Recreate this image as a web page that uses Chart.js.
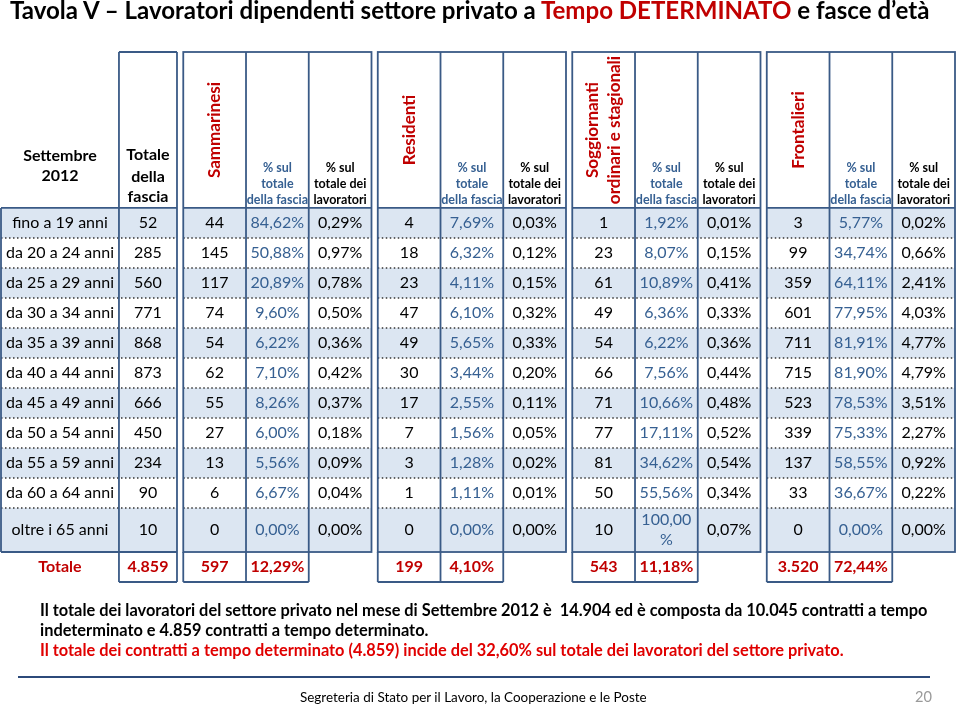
<!DOCTYPE html>
<html>
<head>
<meta charset="utf-8">
<script src="https://cdn.jsdelivr.net/npm/chart.js@4.4.0/dist/chart.umd.min.js"></script>
<style>
  body { margin: 0; background: #fff; font-family: Lato, "Open Sans", sans-serif; }
  #wrap { position: relative; width: 960px; height: 707px; overflow: hidden; }
  #tavola { position: absolute; left: 0; top: 0; }
  .t { position: absolute; white-space: nowrap; line-height: 1; }
  .b { font-weight: bold; }
  #rule { position: absolute; left: 18px; top: 676px; width: 912px; height: 2px; background: #2c4a7a; }
</style>
</head>
<body>
<div id="wrap">
  <canvas id="tavola" width="960" height="707"></canvas>
  <div id="title" class="t b" style="font-size:21px">Tavola V – Lavoratori dipendenti settore privato a <span style="color:#c00000">Tempo DETERMINATO</span> e fasce d’età</div>
  <div id="n1" class="t b" style="font-size:15px">Il totale dei lavoratori del settore privato nel mese di Settembre 2012 è &nbsp;14.904 ed è composta da 10.045 contratti a tempo</div>
  <div id="n2" class="t b" style="font-size:15px">indeterminato e 4.859 contratti a tempo determinato.</div>
  <div id="n3" class="t b" style="font-size:15px;color:#e00000">Il totale dei contratti a tempo determinato (4.859) incide del 32,60% sul totale dei lavoratori del settore privato.</div>
  <div id="rule"></div>
  <div id="foot" class="t" style="font-size:13.5px">Segreteria di Stato per il Lavoro, la Cooperazione e le Poste</div>
  <div id="page" class="t" style="font-size:15px;color:#9a9a9a">20</div>
</div>
<script>
// fasce d'età (righe)
const fasce = ['fino a 19 anni', 'da 20 a 24 anni', 'da 25 a 29 anni', 'da 30 a 34 anni', 'da 35 a 39 anni',
  'da 40 a 44 anni', 'da 45 a 49 anni', 'da 50 a 54 anni', 'da 55 a 59 anni', 'da 60 a 64 anni', 'oltre i 65 anni'];
const totaleFascia = [52, 285, 560, 771, 868, 873, 666, 450, 234, 90, 10];

const sammarinesi = [44, 145, 117, 74, 54, 62, 55, 27, 13, 6, 0];
const sammPctFascia = [84.62, 50.88, 20.89, 9.60, 6.22, 7.10, 8.26, 6.00, 5.56, 6.67, 0.00];
const sammPctLav = [0.29, 0.97, 0.78, 0.50, 0.36, 0.42, 0.37, 0.18, 0.09, 0.04, 0.00];

const residenti = [4, 18, 23, 47, 49, 30, 17, 7, 3, 1, 0];
const resPctFascia = [7.69, 6.32, 4.11, 6.10, 5.65, 3.44, 2.55, 1.56, 1.28, 1.11, 0.00];
const resPctLav = [0.03, 0.12, 0.15, 0.32, 0.33, 0.20, 0.11, 0.05, 0.02, 0.01, 0.00];

const soggiornanti = [1, 23, 61, 49, 54, 66, 71, 77, 81, 50, 10];
const sogPctFascia = [1.92, 8.07, 10.89, 6.36, 6.22, 7.56, 10.66, 17.11, 34.62, 55.56, 100.00];
const sogPctLav = [0.01, 0.15, 0.41, 0.33, 0.36, 0.44, 0.48, 0.52, 0.54, 0.34, 0.07];

const frontalieri = [3, 99, 359, 601, 711, 715, 523, 339, 137, 33, 0];
const froPctFascia = [5.77, 34.74, 64.11, 77.95, 81.91, 81.90, 78.53, 75.33, 58.55, 36.67, 0.00];
const froPctLav = [0.02, 0.66, 2.41, 4.03, 4.77, 4.79, 3.51, 2.27, 0.92, 0.22, 0.00];

// riga "Totale"
const totaleGenerale = 4859;
const totaliGruppi = [597, 199, 543, 3520];
const totaliPct = [12.29, 4.10, 11.18, 72.44];

const gruppi = [
  { nome: ['Sammarinesi'], n: sammarinesi, pf: sammPctFascia, pl: sammPctLav },
  { nome: ['Residenti'], n: residenti, pf: resPctFascia, pl: resPctLav },
  { nome: ['Soggiornanti', 'ordinari e stagionali'], n: soggiornanti, pf: sogPctFascia, pl: sogPctLav },
  { nome: ['Frontalieri'], n: frontalieri, pf: froPctFascia, pl: froPctLav }
];

// layout in scale units (1 x unit = one data column, 1 y unit = one row)
const LABEL_W = 1.88, TOT_W = 0.925, GAP = 0.1, HEAD_H = 5.2;
const rowH = [1, 1, 1, 1, 1, 1, 1, 1, 1, 1, 1.47];
const rowTop = [];
rowH.reduce((acc, h, i) => { rowTop[i] = acc; return acc + h; }, HEAD_H);
const DATA_END = HEAD_H + rowH.reduce((a, b) => a + b, 0);
const TOT_END = DATA_END + 1;
const groupStart = g => LABEL_W + TOT_W + GAP + g * (3 + GAP);
const X_MAX = groupStart(3) + 3;

const FONT = 'Lato, "Open Sans", sans-serif';
const RED = '#c00000', BLUE = '#366092', BORDER = '#3a5a86', SHADE = '#dce6f2';

const fmtInt = n => String(n).replace(/\B(?=(\d{3})+(?!\d))/g, '.');
const fmtPct = v => v.toFixed(2).replace('.', ',') + '%';

const tablePlugin = {
  id: 'tavola',
  afterDraw(chart) {
    const ctx = chart.ctx, sx = chart.scales.x, sy = chart.scales.y;
    const X = v => sx.getPixelForValue(v), Y = v => sy.getPixelForValue(v);
    const line = (x1, y1, x2, y2) => { ctx.beginPath(); ctx.moveTo(X(x1), Y(y1)); ctx.lineTo(X(x2), Y(y2)); ctx.stroke(); };
    const text = (s, xc, yc, font, color, maxW) => {
      ctx.font = font; ctx.fillStyle = color;
      ctx.textAlign = 'center'; ctx.textBaseline = 'middle';
      if (maxW && ctx.measureText(s).width > maxW && s.endsWith('%')) {
        ctx.fillText(s.slice(0, -1), X(xc), Y(yc) - 10);
        ctx.fillText('%', X(xc), Y(yc) + 10);
      } else {
        ctx.fillText(s, X(xc), Y(yc));
      }
    };
    const regions = [[0, LABEL_W + TOT_W]].concat(gruppi.map((g, i) => [groupStart(i), groupStart(i) + 3]));

    ctx.save();
    // shaded rows
    ctx.fillStyle = SHADE;
    fasce.forEach((f, i) => {
      if (i % 2) return;
      regions.forEach(([a, b]) => {
        ctx.fillRect(X(a), Y(rowTop[i]), X(b) - X(a), Y(rowTop[i] + rowH[i]) - Y(rowTop[i]));
      });
    });

    // dotted separators
    ctx.strokeStyle = '#333';
    ctx.lineWidth = 1.5;
    ctx.setLineDash([1.5, 2.5]);
    for (let i = 1; i < fasce.length; i++) {
      regions.forEach(([a, b]) => line(a, rowTop[i], b, rowTop[i]));
    }

    // solid borders
    ctx.setLineDash([]);
    ctx.strokeStyle = BORDER;
    ctx.lineWidth = 1.8;
    line(0, HEAD_H, 0, DATA_END);
    line(0, HEAD_H, LABEL_W + TOT_W, HEAD_H);
    line(0, DATA_END, LABEL_W + TOT_W, DATA_END);
    line(LABEL_W, 0, LABEL_W, TOT_END);
    line(LABEL_W + TOT_W, 0, LABEL_W + TOT_W, TOT_END);
    line(LABEL_W, 0, LABEL_W + TOT_W, 0);
    line(LABEL_W, TOT_END, LABEL_W + TOT_W, TOT_END);
    gruppi.forEach((g, i) => {
      const s = groupStart(i);
      ctx.strokeRect(X(s), Y(0), X(s + 3) - X(s), Y(DATA_END) - Y(0));
      line(s + 1, 0, s + 1, DATA_END);
      line(s + 2, 0, s + 2, DATA_END);
      line(s, HEAD_H, s + 3, HEAD_H);
      [0, 1, 2].forEach(k => line(s + k, DATA_END, s + k, TOT_END));
      line(s, TOT_END, s + 2, TOT_END);
    });

    // header
    const hb = 'bold 16px ' + FONT, hs = 'bold 12.5px ' + FONT;
    text('Settembre', LABEL_W / 2, 3.47, hb, '#000');
    text('2012', LABEL_W / 2, 4.13, hb, '#000');
    ['Totale', 'della', 'fascia'].forEach((s, k) => text(s, LABEL_W + TOT_W / 2, [3.43, 4.16, 4.82][k], hb, '#000'));
    gruppi.forEach((g, i) => {
      const s = groupStart(i);
      ctx.save();
      ctx.font = 'bold 17px ' + FONT; ctx.fillStyle = RED;
      ctx.textAlign = 'center'; ctx.textBaseline = 'middle';
      g.nome.forEach((nm, k) => {
        const off = (k - (g.nome.length - 1) / 2) * 0.36;
        ctx.save();
        ctx.translate(X(s + 0.5 + off), Y(HEAD_H / 2));
        ctx.rotate(-Math.PI / 2);
        ctx.fillText(nm, 0, 0);
        ctx.restore();
      });
      ctx.restore();
      ['% sul', 'totale', 'della fascia'].forEach((t, k) => text(t, s + 1.5, [3.88, 4.41, 4.93][k], hs, BLUE));
      ['% sul', 'totale dei', 'lavoratori'].forEach((t, k) => text(t, s + 2.5, [3.88, 4.41, 4.93][k], hs, '#000'));
    });

    // body
    const fr = '16px ' + FONT;
    const colPx = X(1) - X(0) - 5;
    fasce.forEach((f, i) => {
      const yc = rowTop[i] + rowH[i] / 2;
      text(f, LABEL_W / 2, yc, fr, '#000');
      text(fmtInt(totaleFascia[i]), LABEL_W + TOT_W / 2, yc, fr, '#000');
      gruppi.forEach((g, j) => {
        const s = groupStart(j);
        text(fmtInt(g.n[i]), s + 0.5, yc, fr, '#000');
        text(fmtPct(g.pf[i]), s + 1.5, yc, fr, BLUE, colPx);
        text(fmtPct(g.pl[i]), s + 2.5, yc, fr, '#000');
      });
    });

    // totale row
    const tb = 'bold 16px ' + FONT, yt = DATA_END + 0.5;
    text('Totale', LABEL_W / 2, yt, tb, RED);
    text(fmtInt(totaleGenerale), LABEL_W + TOT_W / 2, yt, tb, RED);
    gruppi.forEach((g, j) => {
      const s = groupStart(j);
      text(fmtInt(totaliGruppi[j]), s + 0.5, yt, tb, RED);
      text(fmtPct(totaliPct[j]), s + 1.5, yt, tb, RED);
    });
    ctx.restore();
  }
};

new Chart(document.getElementById('tavola'), {
  type: 'scatter',
  data: { datasets: [{ data: [], pointRadius: 0 }] },
  options: {
    responsive: false,
    animation: false,
    layout: { padding: { left: 1, top: 52, right: 5, bottom: 125 } },
    plugins: { legend: { display: false }, tooltip: { enabled: false } },
    scales: {
      x: { type: 'linear', display: false, min: 0, max: X_MAX },
      y: { type: 'linear', display: false, min: 0, max: TOT_END, reverse: true }
    }
  },
  plugins: [tablePlugin]
});

// place html text by baseline, optionally fitting width
function place(id, x, base, w) {
  const el = document.getElementById(id);
  let fs = parseFloat(el.style.fontSize);
  if (w) {
    fs = fs * w / el.getBoundingClientRect().width;
    el.style.fontSize = fs + 'px';
  }
  el.style.left = x + 'px';
  el.style.top = (base - 0.887 * fs) + 'px';
  return fs;
}
place('title', 10, 19, 920);
const nfs = place('n1', 40, 617, 888);
['n2', 'n3'].forEach(id => { document.getElementById(id).style.fontSize = nfs + 'px'; });
place('n2', 40, 637);
place('n3', 40, 657);
place('foot', 300, 703, 347);
place('page', 915, 703, 17);
</script>
</body>
</html>
